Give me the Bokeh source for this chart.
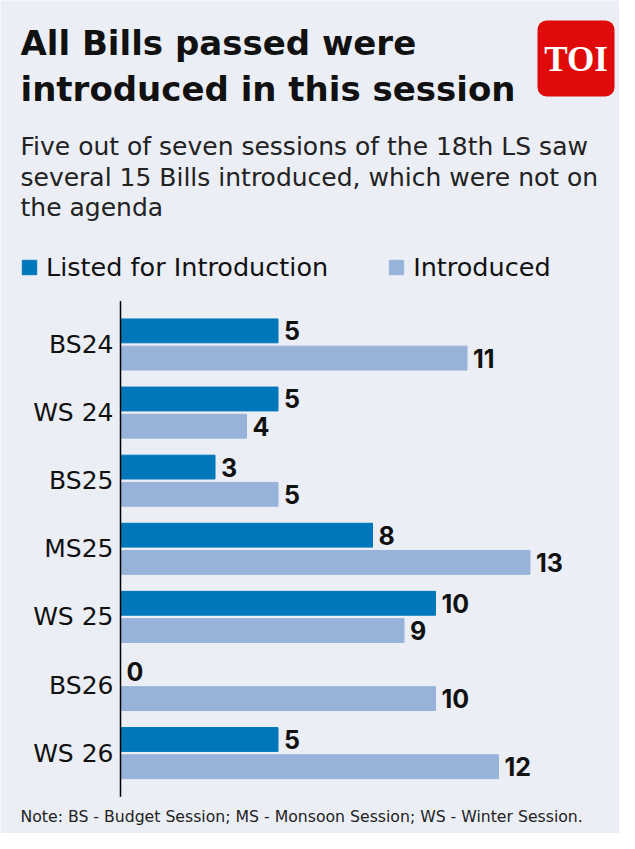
from bokeh.plotting import figure
from bokeh.models import Range1d, ColumnDataSource, LabelSet, Label, BoxAnnotation, Legend, LegendItem
from bokeh.transform import dodge
from bokeh.core.properties import value
from bokeh.embed import file_html
from bokeh.resources import INLINE

# data
sessions = ["BS24", "WS 24", "BS25", "MS25", "WS 25", "BS26", "WS 26"]
listed = [5, 5, 3, 8, 10, 0, 5]
introduced = [11, 4, 5, 13, 9, 10, 12]

title_lines = ["All Bills passed were", "introduced in this session"]
subtitle_lines = ["Five out of seven sessions of the 18th LS saw",
                  "several 15 Bills introduced, which were not on",
                  "the agenda"]
note = "Note: BS - Budget Session; MS - Monsoon Session; WS - Winter Session."

BG = "#EBEEF5"
DARK = "#0077BA"
LIGHT = "#97B3DA"
INK = "#111111"
FONT = "DejaVu Sans"
NUM_FONT = "Inter"

W, H = 619, 833
# layout: the plot frame fills the whole canvas, so scales are set so that
# value 0 sits at x=120px and the first session row is centred at y=344px
X0, PX_UNIT = 120, 31.5
Y0, PX_ROW = 344, 68.1
PAD = 0.14  # axis line overhang, in rows
LIFT = 10   # baseline correction for screen-placed labels

src = ColumnDataSource(data=dict(
    pos=list(range(len(sessions))),
    session=sessions,
    listed=listed,
    introduced=introduced,
    listed_txt=[str(v) for v in listed],
    introduced_txt=[str(v) for v in introduced],
))

p = figure(width=W, height=H,
           x_range=Range1d(-X0 / PX_UNIT, (W - X0) / PX_UNIT),
           y_range=Range1d((H - Y0) / PX_ROW, -Y0 / PX_ROW),
           x_axis_location=None, y_axis_location=None,
           output_backend="svg", toolbar_location=None)
p.min_border = 0
p.background_fill_color = BG
p.border_fill_color = BG
p.outline_line_color = None
p.grid.visible = False

r1 = p.hbar(y=dodge("pos", -0.2), right="listed", left=0,
            height=0.35, color=DARK, source=src)
r2 = p.hbar(y=dodge("pos", 0.2), right="introduced", left=0,
            height=0.35, color=LIGHT, source=src)

for col, off in (("listed", -0.2), ("introduced", 0.2)):
    p.add_layout(LabelSet(x=col, y=dodge("pos", off), text=col + "_txt", source=src,
                          x_offset=6, text_baseline="middle", text_font=value(NUM_FONT),
                          text_font_size="25px", text_font_style="bold",
                          text_color=INK))

# category axis: line and labels
n = len(sessions)
p.segment(x0=0, x1=0, y0=-0.5 - PAD, y1=n - 0.5 + PAD, line_color="black", line_width=1.5)
p.text(x=0, y="pos", text="session", source=src, x_offset=-7,
       text_align="right", text_baseline="middle", text_font=value(FONT),
       text_font_size="25px", text_color=INK)

legend = Legend(items=[LegendItem(label="Listed for Introduction", renderers=[r1]),
                       LegendItem(label="Introduced", renderers=[r2])],
                orientation="horizontal", location=(20, 551),
                glyph_width=18, glyph_height=18, label_standoff=8, spacing=59,
                padding=0, margin=0, border_line_color=None,
                background_fill_alpha=0, label_text_font=FONT,
                label_text_font_size="25.5px", label_text_color=INK)
p.add_layout(legend)

# titles (screen px from the bottom-left of the canvas)
for txt, y in zip(title_lines, [781, 735]):
    p.add_layout(Label(x=20, y=y + LIFT, x_units="screen", y_units="screen", text=txt,
                       text_baseline="alphabetic", text_font=FONT,
                       text_font_size="34px", text_font_style="bold", text_color=INK))
for txt, y in zip(subtitle_lines, [677, 646, 616]):
    p.add_layout(Label(x=20, y=y + LIFT, x_units="screen", y_units="screen", text=txt,
                       text_baseline="alphabetic", text_font=FONT,
                       text_font_size="25px", text_color="#222222"))
p.add_layout(Label(x=20, y=10 + LIFT - 3, x_units="screen", y_units="screen", text=note,
                   text_baseline="alphabetic", text_font=FONT,
                   text_font_size="15.7px", text_color="#222222"))

# TOI logo
p.add_layout(BoxAnnotation(left=537, right=614, top=813, bottom=737,
                           left_units="screen", right_units="screen",
                           top_units="screen", bottom_units="screen",
                           fill_color="#E00A0A", fill_alpha=1, line_color=None,
                           border_radius=9))
p.add_layout(Label(x=575.5, y=764 + LIFT, x_units="screen", y_units="screen", text="TOI",
                   text_align="center", text_baseline="alphabetic",
                   text_font="Liberation Serif", text_font_size="35px",
                   text_font_style="bold", text_color="white"))

open("out.html", "w").write(file_html(p, INLINE))
